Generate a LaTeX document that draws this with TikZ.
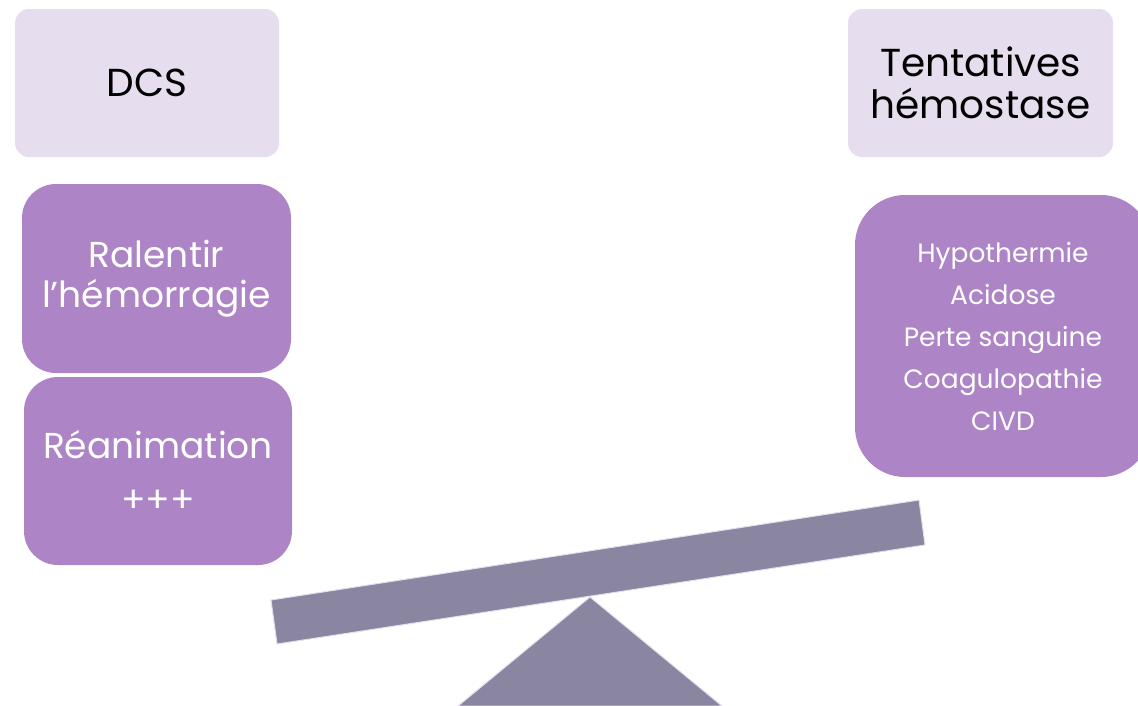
\documentclass[tikz,border=0pt]{standalone}
\usepackage{fontspec}
\setmainfont{Poppins}
\usetikzlibrary{positioning}
\definecolor{lavenderlight}{RGB}{230,222,238}
\definecolor{purplemid}{RGB}{173,132,198}
\definecolor{beamgray}{RGB}{138,133,161}

\begin{document}
\begin{tikzpicture}[x=1pt, y=-1pt,
    lightbox/.style={rectangle, rounded corners=14pt, fill=lavenderlight, align=center, inner sep=0pt, font=\fontsize{39}{42}\selectfont},
    darkbox/.style={rectangle, rounded corners=34pt, fill=purplemid, text=white, align=center, inner sep=0pt, font=\fontsize{36}{40}\selectfont},
    beam/.style={fill=beamgray, draw=lavenderlight, line width=1pt}
  ]
\useasboundingbox (0,0) rectangle (1138,705);
\clip (0,0) rectangle (1138,705);

\node[lightbox, minimum width=264pt, minimum height=148pt] (dcs) at (147,83) {DCS};
\node[darkbox, minimum width=269pt, minimum height=189pt] (ralentir) at (156.5,278.5) {Ralentir\\l’hémorragie};
\node[darkbox, minimum width=268pt, minimum height=188pt] (reanimation) at (158,471) {Réanimation\\[14pt]+++};

\node[lightbox, minimum width=265pt, minimum height=148pt] (tentatives) at (980.5,83) {Tentatives\\hémostase};
\node[darkbox, rounded corners=50pt, minimum width=296pt, minimum height=282pt, font=\fontsize{26.5}{42}\selectfont] (risques) at (1003,336)
  {Hypothermie\\Acidose\\Perte sanguine\\Coagulopathie\\CIVD};

\draw[beam] (271,600) -- (919,500) -- (925,545) -- (277,644) -- cycle;
\draw[beam] (590,597) -- (458,706) -- (722,706) -- cycle;
\end{tikzpicture}
\end{document}
